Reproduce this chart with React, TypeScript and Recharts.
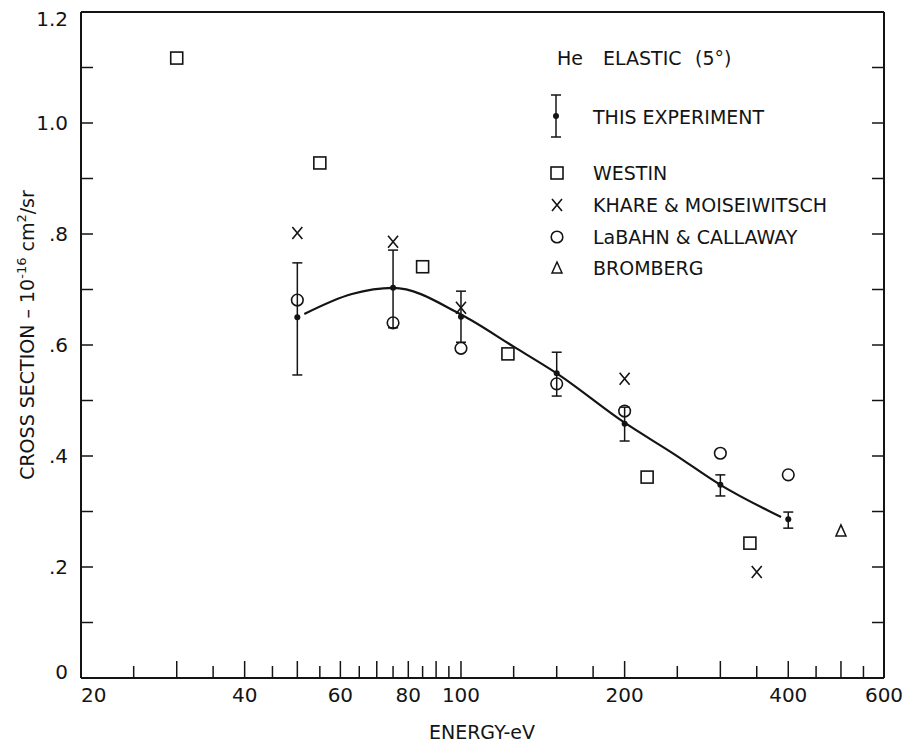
import React from "react";
import { ComposedChart, Scatter, Line, XAxis, YAxis, ErrorBar } from "recharts";

const FONT = "'DejaVu Sans', 'Liberation Sans', sans-serif";
const INK = "#141414";

// axis ticks
const xTicks = [
  20, 25, 30, 35, 40, 45, 50, 55, 60, 65, 70, 75, 80, 85, 90, 95, 100, 125, 150,
  175, 200, 250, 300, 350, 400, 450, 500, 550, 600,
];
const xLongTicks = [30, 40, 50, 60, 70, 80, 90, 100, 200, 300, 400, 500];
const xLabelled = [20, 40, 60, 80, 100, 200, 400, 600];
const yTicks = [0, 0.1, 0.2, 0.3, 0.4, 0.5, 0.6, 0.7, 0.8, 0.9, 1.0, 1.1, 1.2];

// this experiment (energy eV, value, error bar low / high)
const expEnergy = [50, 75, 100, 150, 200, 300, 400];
const expValue = [0.65, 0.703, 0.651, 0.549, 0.458, 0.348, 0.286];
const expLow = [0.546, 0.631, 0.605, 0.508, 0.427, 0.328, 0.27];
const expHigh = [0.748, 0.771, 0.697, 0.587, 0.488, 0.366, 0.299];

// smooth curve through the experiment
const fitEnergy = [51.5, 63, 75, 100, 125, 150, 200, 247, 300, 388];
const fitValue = [0.656, 0.692, 0.703, 0.655, 0.597, 0.549, 0.46, 0.403, 0.348, 0.29];

const westinEnergy = [30, 55, 85, 122, 220, 340];
const westinValue = [1.117, 0.928, 0.741, 0.584, 0.362, 0.243];

const khareEnergy = [50, 75, 100, 200, 350];
const khareValue = [0.802, 0.786, 0.667, 0.539, 0.191];

const labahnEnergy = [50, 75, 100, 150, 200, 300, 400];
const labahnValue = [0.681, 0.64, 0.594, 0.53, 0.481, 0.405, 0.366];

const brombergEnergy = [500];
const brombergValue = [0.265];

const zip = (es: number[], vs: number[]) => es.map((e, i) => ({ e, v: vs[i] }));

const expData = expEnergy.map((e, i) => ({
  e,
  v: expValue[i],
  err: [expValue[i] - expLow[i], expHigh[i] - expValue[i]],
}));
const fitData = zip(fitEnergy, fitValue);
const westinData = zip(westinEnergy, westinValue);
const khareData = zip(khareEnergy, khareValue);
const labahnData = zip(labahnEnergy, labahnValue);
const brombergData = zip(brombergEnergy, brombergValue);

const textStyle = { fontFamily: FONT, fontSize: 19, fill: INK };

// markers
const Square = ({ cx, cy }: any) => (
  <rect x={cx - 6} y={cy - 6} width={12} height={12} fill="none" stroke={INK} strokeWidth={1.6} />
);
const Cross = ({ cx, cy }: any) => (
  <path
    d={`M${cx - 5},${cy - 6}L${cx + 5},${cy + 6}M${cx + 5},${cy - 6}L${cx - 5},${cy + 6}`}
    stroke={INK}
    strokeWidth={1.6}
    fill="none"
  />
);
const Ring = ({ cx, cy }: any) => (
  <circle cx={cx} cy={cy} r={5.8} fill="none" stroke={INK} strokeWidth={1.6} />
);
const Tri = ({ cx, cy }: any) => (
  <path
    d={`M${cx},${cy - 6}L${cx + 5},${cy + 5}L${cx - 5},${cy + 5}Z`}
    fill="none"
    stroke={INK}
    strokeWidth={1.5}
  />
);
const Dot = ({ cx, cy }: any) => <circle cx={cx} cy={cy} r={3} fill={INK} />;

// axis ticks drawn inward
const BottomTick = ({ x, y, payload }: any) => {
  const v = payload.value;
  const edge = v === 20 || v === 600;
  const len = xLongTicks.includes(v) ? 17 : 12;
  return (
    <g>
      {!edge && <line x1={x} x2={x} y1={y} y2={y - len} stroke={INK} strokeWidth={1.5} />}
      {xLabelled.includes(v) && (
        <text x={x} y={y + 24} textAnchor={v === 20 ? "start" : "middle"} {...textStyle} fontSize={20}>
          {v}
        </text>
      )}
    </g>
  );
};
const TopTick = ({ x, y, payload }: any) => {
  const v = payload.value;
  if (v === 20 || v === 600) return <g />;
  const len = xLongTicks.includes(v) ? 17 : 12;
  return <line x1={x} x2={x} y1={y} y2={y + len} stroke={INK} strokeWidth={1.5} />;
};
const yLabel = (v: number) => {
  const t = Math.round(v * 10);
  if (t % 2 !== 0) return null;
  if (t === 0) return "0";
  return t >= 10 ? (t / 10).toFixed(1) : "." + t;
};
const LeftTick = ({ x, y, payload }: any) => {
  const v = payload.value;
  const t = Math.round(v * 10);
  const lbl = yLabel(v);
  const dy = t === 12 ? 7 : t === 0 ? -6 : 0;
  return (
    <g>
      {t !== 0 && t !== 12 && <line x1={x} x2={x + 12} y1={y} y2={y} stroke={INK} strokeWidth={1.5} />}
      {lbl && (
        <text x={x - 13} y={y + dy} dy="0.36em" textAnchor="end" {...textStyle} fontSize={20}>
          {lbl}
        </text>
      )}
    </g>
  );
};
const RightTick = ({ x, y, payload }: any) => {
  const t = Math.round(payload.value * 10);
  if (t === 0 || t === 12) return <g />;
  return <line x1={x} x2={x - 12} y1={y} y2={y} stroke={INK} strokeWidth={1.5} />;
};

const axisLine = { stroke: INK, strokeWidth: 2 };

function Annotations() {
  const lx = 556;
  const tx = 593;
  return (
    <svg
      width={904}
      height={744}
      style={{ position: "absolute", left: 0, top: 0, pointerEvents: "none" }}
    >
      <text y={58} dy="0.36em" {...textStyle}>
        <tspan x={557}>He</tspan>
        <tspan x={603}>ELASTIC</tspan>
        <tspan x={695}>(5°)</tspan>
      </text>

      <line x1={lx} x2={lx} y1={95} y2={137} stroke={INK} strokeWidth={1.5} />
      <line x1={lx - 5} x2={lx + 5} y1={95} y2={95} stroke={INK} strokeWidth={1.5} />
      <line x1={lx - 5} x2={lx + 5} y1={137} y2={137} stroke={INK} strokeWidth={1.5} />
      <Dot cx={lx} cy={116} />
      <text x={tx} y={117} dy="0.36em" {...textStyle}>THIS EXPERIMENT</text>

      <Square cx={lx + 1} cy={173} />
      <text x={tx} y={173} dy="0.36em" {...textStyle}>WESTIN</text>

      <Cross cx={lx + 1} cy={205} />
      <text x={tx} y={205} dy="0.36em" {...textStyle}>KHARE &amp; MOISEIWITSCH</text>

      <Ring cx={lx + 1} cy={237} />
      <text x={tx} y={237} dy="0.36em" {...textStyle}>LaBAHN &amp; CALLAWAY</text>

      <Tri cx={lx + 1} cy={268} />
      <text x={tx} y={268} dy="0.36em" {...textStyle}>BROMBERG</text>

      <text x={482} y={739} textAnchor="middle" {...textStyle}>ENERGY-eV</text>

      <text transform="translate(34,335) rotate(-90)" textAnchor="middle" {...textStyle}>
        CROSS SECTION – 10
        <tspan dy={-8} fontSize={13}>-16</tspan>
        <tspan dy={8}> cm</tspan>
        <tspan dy={-8} fontSize={13}>2</tspan>
        <tspan dy={8}>/sr</tspan>
      </text>
    </svg>
  );
}

export default function App() {
  return (
    <div style={{ position: "absolute", left: 0, top: 0, width: 904, height: 744, background: "#fff" }}>
      <ComposedChart
        width={904}
        height={744}
        margin={{ top: 11, right: 10, bottom: 6, left: 21 }}
      >
        <XAxis
          dataKey="e"
          type="number"
          scale="log"
          domain={[20, 600]}
          allowDataOverflow
          ticks={xTicks}
          interval={0}
          tickSize={0}
          tickMargin={0}
          height={60}
          axisLine={axisLine}
          tick={<BottomTick />}
        />
        <XAxis
          xAxisId="top"
          orientation="top"
          type="number"
          scale="log"
          domain={[20, 600]}
          allowDataOverflow
          ticks={xTicks}
          interval={0}
          tickSize={0}
          tickMargin={0}
          height={1}
          axisLine={axisLine}
          tick={<TopTick />}
        />
        <YAxis
          dataKey="v"
          type="number"
          domain={[0, 1.2]}
          allowDataOverflow
          ticks={yTicks}
          interval={0}
          tickSize={0}
          tickMargin={0}
          width={60}
          axisLine={axisLine}
          tick={<LeftTick />}
        />
        <YAxis
          yAxisId="right"
          orientation="right"
          type="number"
          domain={[0, 1.2]}
          allowDataOverflow
          ticks={yTicks}
          interval={0}
          tickSize={0}
          tickMargin={0}
          width={10}
          axisLine={axisLine}
          tick={<RightTick />}
        />
        <Line
          data={fitData}
          dataKey="v"
          type="monotone"
          dot={false}
          stroke={INK}
          strokeWidth={2.2}
          isAnimationActive={false}
        />
        <Scatter data={expData} dataKey="v" shape={<Dot />} isAnimationActive={false}>
          <ErrorBar dataKey="err" direction="y" width={5} stroke={INK} strokeWidth={1.5} isAnimationActive={false} />
        </Scatter>
        <Scatter data={westinData} dataKey="v" shape={<Square />} isAnimationActive={false} />
        <Scatter data={khareData} dataKey="v" shape={<Cross />} isAnimationActive={false} />
        <Scatter data={labahnData} dataKey="v" shape={<Ring />} isAnimationActive={false} />
        <Scatter data={brombergData} dataKey="v" shape={<Tri />} isAnimationActive={false} />
      </ComposedChart>
      <Annotations />
    </div>
  );
}
